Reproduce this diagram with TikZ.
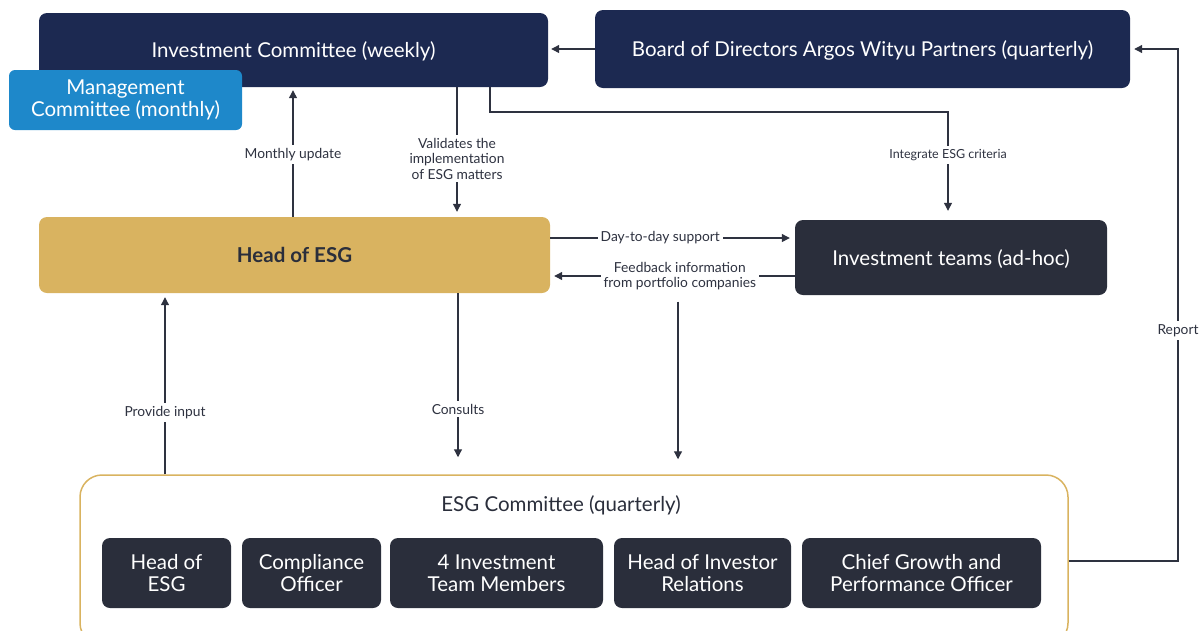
\documentclass[tikz,border=0pt]{standalone}
\usepackage{fontspec}
\setmainfont{Lato}
\usetikzlibrary{arrows.meta}
\definecolor{navy}{HTML}{1C2951}
\definecolor{mgmtblue}{HTML}{1E88CA}
\definecolor{esggold}{HTML}{D9B360}
\definecolor{charcoal}{HTML}{2A2E3B}
\definecolor{linec}{HTML}{2E3240}

\begin{document}
\begin{tikzpicture}[x=1pt,y=-1pt,
  box/.style={rounded corners=8pt, text=white, align=center, inner sep=0pt,
    font=\fontsize{20.5}{22}\selectfont},
  member/.style={box, fill=charcoal, minimum height=70pt},
  lbl/.style={fill=white, text=linec, align=center, inner sep=3pt,
    font=\fontsize{13.8}{15.5}\selectfont},
  ln/.style={draw=linec, line width=1.2pt},
  arr/.style={ln, -{Triangle[width=8pt,length=8pt]}}]
  \useasboundingbox (0,0) rectangle (1204,630);

  \node[box, fill=navy, minimum width=509pt, minimum height=74pt, text depth=0pt] (ic) at (293.5,50) {Investment Committee (weekly)};
  \node[box, fill=navy, minimum width=535pt, minimum height=78pt, text depth=0pt] (board) at (862.5,49) {Board of Directors Argos Wityu Partners (quarterly)};
  \node[box, fill=mgmtblue, minimum width=233pt, minimum height=60pt, rounded corners=6pt] (mgmt) at (125.5,100) {Management\\Committee (monthly)};
  \node[box, fill=esggold, text=charcoal, minimum width=511pt, minimum height=76pt, font=\fontsize{20.5}{22}\selectfont\bfseries] (hesg) at (294.5,255) {Head of ESG};
  \node[box, fill=charcoal, minimum width=312pt, minimum height=75pt, text depth=0pt] (it) at (951,257.5) {Investment teams (ad-hoc)};

  \node[draw=esggold, line width=1.5pt, rounded corners=22pt, minimum width=988pt, minimum height=170pt] (esgc) at (574,560) {};
  \node[text=charcoal, font=\fontsize{20.5}{22}\selectfont] (esgtitle) at (561,505) {ESG Committee (quarterly)};
  \node[member, minimum width=129pt] (m1) at (166.5,573) {Head of\\ESG};
  \node[member, minimum width=139pt] (m2) at (311.5,573) {Compliance\\Officer};
  \node[member, minimum width=213pt] (m3) at (496.5,573) {4 Investment\\Team Members};
  \node[member, minimum width=177pt] (m4) at (702.5,573) {Head of Investor\\Relations};
  \node[member, minimum width=239pt] (m5) at (921.5,573) {Chief Growth and\\Performance Officer};

  \coordinate (cmon) at (293,0);
  \coordinate (cval) at (457,0);
  \coordinate (cint) at (490,0);
  \coordinate (cturn) at (948,112);
  \coordinate (cday) at (0,238);
  \coordinate (cfbk) at (0,276);
  \coordinate (cfb) at (678,0);
  \coordinate (ccon) at (458,0);
  \coordinate (cinp) at (165,0);
  \coordinate (crep) at (1178,561);

  \draw[arr, shorten >=3pt] (board.west) -- (board.west -| ic.east);
  \draw[arr, shorten >=5pt] (ic.south -| cval) -- node[lbl, pos=0.55] {Validates the\\implementation\\of ESG matters} (cval |- hesg.north);
  \draw[arr, shorten >=9pt] (ic.south -| cint) |- (cturn) -- node[lbl, pos=0.4, font=\fontsize{12.5}{15}\selectfont] {Integrate ESG criteria} (cturn |- it.north);
  \draw[arr, shorten >=3pt] (hesg.north -| cmon) -- node[lbl, pos=0.48] {Monthly update} (cmon |- ic.south);
  \draw[arr, shorten >=5pt] (hesg.east |- cday) -- node[lbl, pos=0.45] {Day-to-day support} (it.west |- cday);
  \draw[arr, shorten >=4pt] (it.west |- cfbk) -- node[lbl, pos=0.47] (fb) {Feedback information\\from portfolio companies} (hesg.east |- cfbk);
  \draw[arr, shorten <=8pt, shorten >=15pt] (fb.south -| cfb) -- (cfb |- esgc.north);
  \draw[arr, shorten >=17pt] (hesg.south -| ccon) -- node[lbl, pos=0.64] {Consults} (ccon |- esgc.north);
  \draw[arr, shorten >=4pt] (esgc.north -| cinp) -- node[lbl, pos=0.34] {Provide input} (cinp |- hesg.south);
  \draw[arr, shorten >=4pt] (esgc.east |- crep) -- (crep) -- node[lbl, pos=0.45] {Report} (crep |- board.east) -- (board.east);
\end{tikzpicture}
\end{document}
